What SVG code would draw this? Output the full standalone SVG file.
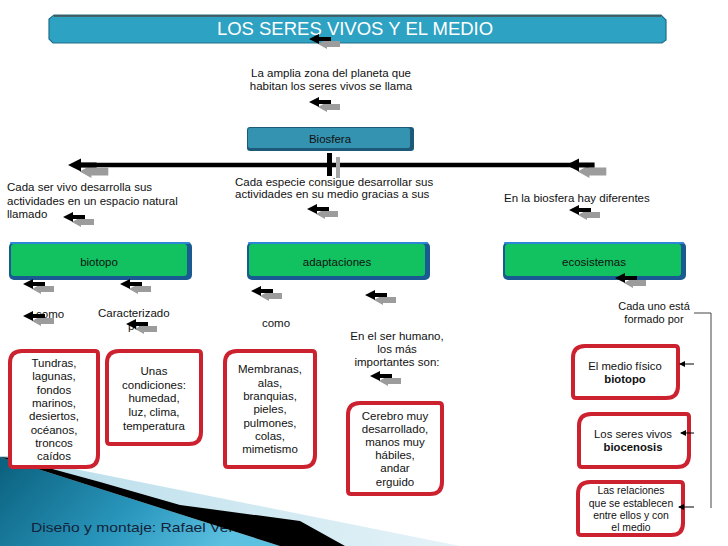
<svg xmlns="http://www.w3.org/2000/svg" xmlns:xlink="http://www.w3.org/1999/xlink" width="728" height="546" viewBox="0 0 728 546">
<style>
.t{font-family:"Liberation Sans",Arial,sans-serif;font-size:11.5px;fill:#111}
.c{text-anchor:middle}
.bx{font-size:11.5px}
.sm{font-size:11.3px}
.xs{font-size:10.4px}
.b{font-weight:bold}
.red{fill:#fff;stroke:#cc2230;stroke-width:4}
.thin{fill:none;stroke:#444;stroke-width:1}
</style>
<defs>
<linearGradient id="teal" x1="0" y1="0" x2="1" y2="0.3">
<stop offset="0" stop-color="#0a5f7c"/>
<stop offset="0.6" stop-color="#2a97bd"/>
<stop offset="1" stop-color="#5cc0e0"/>
</linearGradient>
<linearGradient id="lb" x1="0" y1="0" x2="1" y2="0">
<stop offset="0" stop-color="#b5dcea"/>
<stop offset="1" stop-color="#e6f3f8"/>
</linearGradient>
<g id="ar">
<path d="M9,5 L18,0 L18,2 L31,2 L31,8 L18,8 L18,10 Z" fill="#9c9c9c"/>
<path d="M0,0 L10,-5 L10,-2 L22,-2 L22,2 L10,2 L10,5 Z" fill="#000"/>
</g>
<marker id="mk" markerWidth="6" markerHeight="6" refX="5" refY="3" orient="auto" markerUnits="userSpaceOnUse">
<path d="M0,0 L6,3 L0,6 Z" fill="#000"/>
</marker>
</defs>
<rect width="728" height="546" fill="#fff"/>

<g id="footer">
<polygon points="10,456 460,546 0,546 0,456" fill="url(#lb)"/>
<polygon points="0,457 280,546 0,546" fill="url(#teal)"/>
<text class="t" x="31" y="532" textLength="240" lengthAdjust="spacingAndGlyphs" style="font-size:13px;fill:#14233a">Diseño y montaje: Rafael Verónico</text>
<polygon points="12,458 100,482 180,505 300,521 345,546 280,546 0,457" fill="#000"/>
</g>

<g id="title">
<polygon points="54,15 661,15 666,20 666,40 662,43 53,43 49,39 49,19" fill="#2ea2c3" stroke="#1f6f88" stroke-width="1.2"/>
<line x1="54" y1="16" x2="661" y2="16" stroke="#4d4d4d" stroke-width="1.5"/>
<text class="t c" x="355" y="35" style="font-size:18.5px;fill:#fff">LOS SERES VIVOS Y EL MEDIO</text>
</g>

<g id="t-zona">
<text class="t c" x="331" y="77">La amplia zona del planeta que</text>
<text class="t c" x="331" y="90">habitan los seres vivos se llama</text>
</g>

<g id="biosfera">
<rect x="247" y="127" width="167" height="24" rx="3" fill="#1c5a78"/>
<rect x="248" y="128" width="162" height="20" rx="2" fill="#3493b0"/>
<text class="t c" x="330" y="143">Biosfera</text>
</g>

<g id="t-left">
<text class="t" x="7" y="191">Cada ser vivo desarrolla sus</text>
<text class="t" x="7" y="205">actividades en un espacio natural</text>
<text class="t" x="7" y="218">llamado</text>
</g>
<g id="t-mid">
<text class="t" x="235" y="186">Cada especie consigue desarrollar sus</text>
<text class="t" x="235" y="198">actividades en su medio gracias a sus</text>
</g>
<g id="t-right">
<text class="t" x="504" y="202">En la biosfera hay diferentes</text>
</g>

<g id="n-biotopo">
<rect x="9" y="242" width="183" height="38" rx="5" fill="#1a5a92"/>
<rect x="10" y="242" width="180" height="2" rx="1" fill="#2f86d6"/>
<rect x="11" y="244" width="176" height="32" rx="3" fill="#12c160"/>
<text class="t c" x="99" y="266">biotopo</text>
</g>
<g id="n-adaptaciones">
<rect x="247" y="242" width="183" height="38" rx="5" fill="#1a5a92"/>
<rect x="248" y="242" width="180" height="2" rx="1" fill="#2f86d6"/>
<rect x="249" y="244" width="176" height="32" rx="3" fill="#12c160"/>
<text class="t c" x="337" y="266">adaptaciones</text>
</g>
<g id="n-ecosistemas">
<rect x="503" y="242" width="183" height="38" rx="5" fill="#1a5a92"/>
<rect x="504" y="242" width="180" height="2" rx="1" fill="#2f86d6"/>
<rect x="505" y="244" width="176" height="32" rx="3" fill="#12c160"/>
<text class="t c" x="594" y="266">ecosistemas</text>
</g>

<g id="t-como1"><text class="t" x="36" y="318">como</text></g>
<g id="t-caract">
<text class="t" x="98" y="317">Caracterizado</text>
<text class="t" x="128" y="330">por</text>
</g>
<g id="t-como2"><text class="t c" x="276" y="327">como</text></g>
<g id="t-humano">
<text class="t c" x="397" y="340">En el ser humano,</text>
<text class="t c" x="397" y="353">los más</text>
<text class="t c" x="397" y="366">importantes son:</text>
</g>
<g id="t-cada">
<text class="t c" x="654" y="310" style="font-size:11px">Cada uno está</text>
<text class="t c" x="654" y="323" style="font-size:11px">formado por</text>
</g>

<g id="n-tundras">
<path class="red" d="M22,351 H95 Q98,351 98,354 V455 Q98,467 86,467 H13 Q10,467 10,464 V363 Q10,351 22,351 Z"/>
<text class="t c bx" x="54" y="367">Tundras,</text>
<text class="t c bx" x="54" y="380">lagunas,</text>
<text class="t c bx" x="54" y="394">fondos</text>
<text class="t c bx" x="54" y="407">marinos,</text>
<text class="t c bx" x="54" y="420">desiertos,</text>
<text class="t c bx" x="54" y="434">océanos,</text>
<text class="t c bx" x="54" y="447">troncos</text>
<text class="t c bx" x="54" y="460">caídos</text>
</g>
<g id="n-condiciones">
<path class="red" d="M119,351 H198 Q201,351 201,354 V432 Q201,444 189,444 H110 Q107,444 107,441 V363 Q107,351 119,351 Z"/>
<text class="t c bx" x="154" y="375">Unas</text>
<text class="t c bx" x="154" y="389">condiciones:</text>
<text class="t c bx" x="154" y="402">humedad,</text>
<text class="t c bx" x="154" y="416">luz, clima,</text>
<text class="t c bx" x="154" y="430">temperatura</text>
</g>
<g id="n-membranas">
<path class="red" d="M237,351 H312 Q315,351 315,354 V455 Q315,467 303,467 H228 Q225,467 225,464 V363 Q225,351 237,351 Z"/>
<text class="t c bx" x="270" y="373">Membranas,</text>
<text class="t c bx" x="270" y="387">alas,</text>
<text class="t c bx" x="270" y="400">branquias,</text>
<text class="t c bx" x="270" y="413">pieles,</text>
<text class="t c bx" x="270" y="427">pulmones,</text>
<text class="t c bx" x="270" y="440">colas,</text>
<text class="t c bx" x="270" y="453">mimetismo</text>
</g>
<g id="n-cerebro">
<path class="red" d="M360,403 H439 Q442,403 442,406 V482 Q442,494 430,494 H351 Q348,494 348,491 V415 Q348,403 360,403 Z"/>
<text class="t c bx" x="395" y="420">Cerebro muy</text>
<text class="t c bx" x="395" y="433">desarrollado,</text>
<text class="t c bx" x="395" y="446">manos muy</text>
<text class="t c bx" x="395" y="459">hábiles,</text>
<text class="t c bx" x="395" y="472">andar</text>
<text class="t c bx" x="395" y="486">erguido</text>
</g>
<g id="n-medio">
<path class="red" d="M585,346 H675 Q678,346 678,349 V386 Q678,398 666,398 H576 Q573,398 573,395 V358 Q573,346 585,346 Z"/>
<text class="t c sm" x="625" y="370">El medio físico</text>
<text class="t c sm b" x="625" y="383">biotopo</text>
</g>
<g id="n-seres">
<path class="red" d="M591,414 H686 Q689,414 689,417 V455 Q689,467 677,467 H582 Q579,467 579,464 V426 Q579,414 591,414 Z"/>
<text class="t c sm" x="633" y="438">Los seres vivos</text>
<text class="t c sm b" x="633" y="451">biocenosis</text>
</g>
<g id="n-relaciones">
<path class="red" d="M590,482 H680 Q683,482 683,485 V523 Q683,535 671,535 H581 Q578,535 578,532 V494 Q578,482 590,482 Z"/>
<text class="t c xs" x="631" y="494">Las relaciones</text>
<text class="t c xs" x="631" y="507">que se establecen</text>
<text class="t c xs" x="631" y="519">entre ellos y con</text>
<text class="t c xs" x="631" y="531">el medio</text>
</g>

<g id="connectors">
<line x1="75" y1="165" x2="572" y2="165" stroke="#000" stroke-width="4.5"/>
<rect x="336" y="157" width="4" height="21" fill="#a6a6a6"/>
<rect x="327" y="153" width="5" height="23" fill="#000"/>
<use xlink:href="#ar" transform="translate(68,165) scale(1.3)"/>
<use xlink:href="#ar" transform="translate(566,165) scale(1.3)"/>
<use xlink:href="#ar" x="309" y="39"/>
<use xlink:href="#ar" x="309" y="102"/>
<use xlink:href="#ar" x="63" y="217"/>
<use xlink:href="#ar" x="307" y="209"/>
<use xlink:href="#ar" x="569" y="210"/>
<use xlink:href="#ar" x="23" y="284"/>
<use xlink:href="#ar" x="120" y="284"/>
<use xlink:href="#ar" x="23" y="316"/>
<use xlink:href="#ar" x="126" y="324"/>
<use xlink:href="#ar" x="251" y="291"/>
<use xlink:href="#ar" x="365" y="295"/>
<use xlink:href="#ar" x="370" y="376"/>
<use xlink:href="#ar" x="615" y="278"/>
<path class="thin" d="M694,313 H711 V508"/>
<line x1="694" y1="364" x2="680" y2="364" stroke="#000" stroke-width="1" marker-end="url(#mk)"/>
<line x1="694" y1="433" x2="681" y2="433" stroke="#000" stroke-width="1" marker-end="url(#mk)"/>
<line x1="694" y1="507" x2="679" y2="507" stroke="#000" stroke-width="1" marker-end="url(#mk)"/>
</g>
</svg>
